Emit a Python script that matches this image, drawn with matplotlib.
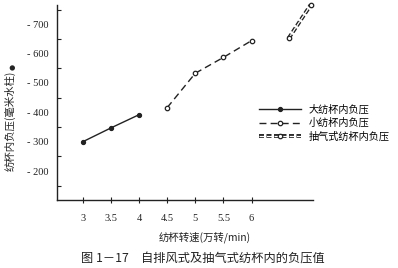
import matplotlib
matplotlib.use('Agg')
import matplotlib.pyplot as plt
import matplotlib.patheffects as pe
from matplotlib.ticker import MultipleLocator
from matplotlib.legend_handler import HandlerTuple

plt.rcParams['font.family'] = ['Liberation Serif', 'Noto Sans CJK SC']

# 数据
big_x = [3, 3.5, 4]
big_y = [300, 347, 392]
small_x = [4.5, 5, 5.5, 6]
small_y = [416, 533, 587, 644]
suck_x = [6.66, 7.05]
suck_y = [652, 765]

xticks = [3, 3.5, 4, 4.5, 5, 5.5, 6]
xlabels = ['3', '3.5', '4', '4.5', '5', '5.5', '6']
yticks = [200, 300, 400, 500, 600, 700]
ylabels = ['- 200', '- 300', '- 400', '- 500', '- 600', '- 700']

c = '#222222'
fig = plt.figure(figsize=(3.98, 2.68), dpi=100)
ax = fig.add_axes([0.143, 0.254, 0.643, 0.727])

h1, = ax.plot(big_x, big_y, color=c, lw=1.0, marker='o', ms=2.8)
h2, = ax.plot(small_x, small_y, color=c, lw=1.0, ls=(0, (5, 3)), marker='o', ms=3.2,
              mfc='white', mew=0.9)
# 双线虚线
h3a, = ax.plot(suck_x, suck_y, color='white', lw=0.9, ls=(0, (4, 2)), clip_on=False,
               path_effects=[pe.Stroke(linewidth=2.8, foreground=c), pe.Normal()])
h3b, = ax.plot(suck_x, suck_y, ls='none', marker='o', ms=3.2, mfc='white', mec=c,
               mew=0.9, clip_on=False)

ax.set_xlim(2.54, 7.09)
ax.set_ylim(102, 765)
ax.set_xticks(xticks)
ax.set_xticklabels(xlabels, fontsize=7.5)
ax.set_yticks(yticks)
ax.set_yticklabels(ylabels, fontsize=7.5)
ax.yaxis.set_minor_locator(MultipleLocator(50))
ax.tick_params(axis='x', direction='inout', length=4, width=0.8, pad=8, colors=c)
ax.tick_params(axis='y', which='both', direction='in', length=3, width=0.8, pad=6, colors=c)
ax.tick_params(axis='y', which='major', length=0)

for s in ['top', 'right']:
    ax.spines[s].set_visible(False)
for s in ['left', 'bottom']:
    ax.spines[s].set_linewidth(1.0)
    ax.spines[s].set_color(c)

ax.legend([h1, h2, (h3a, h3b)], ['大纺杯内负压', '小纺杯内负压', '抽气式纺杯内负压'],
          handler_map={tuple: HandlerTuple(ndivide=1)},
          loc='upper left', bbox_to_anchor=(0.638, 0.63), bbox_transform=fig.transFigure,
          frameon=False, prop={'family': 'Noto Sans CJK SC', 'size': 7.3},
          handlelength=4.1, handletextpad=0.8, labelspacing=0.35, borderpad=0)

fig.text(0.025, 0.55, '纺杯内负压(毫米水柱)', rotation=90, ha='center', va='center',
         fontsize=7.5, family='Noto Sans CJK SC', color=c)
fig.text(0.031, 0.752, '●', rotation=90, ha='center', va='center',
         fontsize=5, family='DejaVu Sans', color=c)
fig.text(0.515, 0.115, '纺杯转速(万转/min)', ha='center', va='center',
         fontsize=7.5, family=['Noto Sans CJK SC'], color=c)
fig.text(0.51, 0.038, '图 1－17　自排风式及抽气式纺杯内的负压值', ha='center', va='center',
         fontsize=8.8, family=['Noto Sans CJK SC'], color=c)

fig.savefig('out.png', dpi=100)
